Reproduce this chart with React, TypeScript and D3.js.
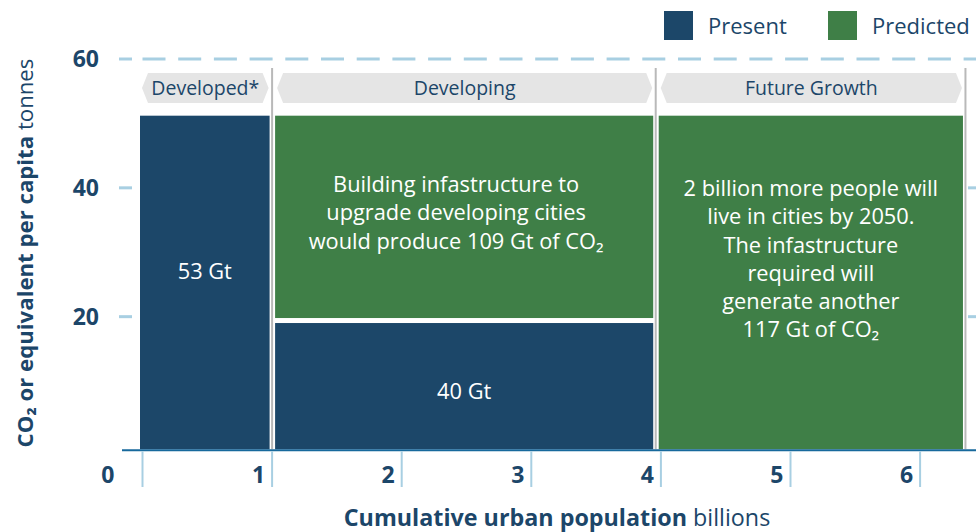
import React from "react";
import * as d3 from "d3";

// ---- data ----
const categories = ["Developed*", "Developing", "Future Growth"];
const popStart = [0, 1, 3.96];
const popEnd = [1, 3.96, 6.35];
const presentValues = [51.2, 19.4, 0];
const predictedValues = [0, 31.8, 51.2];
const xTickValues = [0, 1, 2, 3, 4, 5, 6];
const yTickValues = [20, 40, 60];
const legendItems = ["Present", "Predicted"];
const annotationLines = [
  ["53 Gt"],
  ["Building infastructure to", "upgrade developing cities", "would produce 109 Gt of CO₂"],
  ["40 Gt"],
  ["2 billion more people will", "live in cities by 2050.", "The infastructure", "required will", "generate another", "117 Gt of CO₂"],
];
const annotationCat = [0, 1, 1, 2];
const annotationValue = [27.1, 36.2, 8.5, 29.0];
const annotationShift = [0, -8, 0, 0];

const NAVY = "#1c4769";
const GREEN = "#3f7f47";
const TEXT = "#1c4669";
const LIGHTBLUE = "#a8cfe2";
const AXISBLUE = "#17699c";
const BANNER = "#e5e5e5";
const SEP = "#b9b9b9";
const FONT = "'Open Sans', Lato, sans-serif";

export default function App() {
  const W = 976, H = 532;
  const x = d3.scaleLinear().domain([0, 6]).range([142.5, 920.1]);
  const y = d3.scaleLinear().domain([0, 60]).range([445.5, 59]);
  const baseY = 449.3;
  const colors = [NAVY, GREEN];

  const barLeft = (i: number) => x(popStart[i]) + (i === 0 ? -2.5 : 3);
  const barRight = (i: number) => x(popEnd[i]) - 2.5;

  return (
    <svg width={W} height={H} style={{ display: "block", position: "absolute", left: 0, top: 0 }} fontFamily={FONT}>
      {/* legend */}
      {legendItems.map((t, i) => (
        <g key={t} transform={`translate(${664 + i * 164},11)`}>
          <rect width={29} height={29} fill={colors[i]} />
          <text x={44} y={22.5} fontSize={22} fill={TEXT}>{t}</text>
        </g>
      ))}

      {/* 60 dashed gridline */}
      <line x1={x(0)} x2={W} y1={y(60)} y2={y(60)} stroke={LIGHTBLUE} strokeWidth={3} strokeDasharray="23 12.7" />
      {/* y ticks */}
      {yTickValues.map((v) => (
        <g key={v}>
          <line x1={119} x2={132} y1={y(v)} y2={y(v)} stroke={LIGHTBLUE} strokeWidth={3} />
          {v !== 60 && <line x1={968} x2={976} y1={y(v)} y2={y(v)} stroke={LIGHTBLUE} strokeWidth={3} />}
          <text x={99} y={y(v) + 8} textAnchor="end" fontSize={23} fontWeight={700} fill={TEXT}>{v}</text>
        </g>
      ))}

      {/* banners */}
      {categories.map((c, i) => {
        const l = barLeft(i) + 2, r = barRight(i) - 1;
        const t = 73, b = 103, m = (t + b) / 2, k = 6;
        const path = `M${l},${m} L${l + k},${t} L${r - k},${t} L${r},${m} L${r - k},${b} L${l + k},${b} Z`;
        return (
          <g key={c}>
            <path d={path} fill={BANNER} />
            <text x={(l + r) / 2} y={94.5} textAnchor="middle" fontSize={19.5} fill={TEXT}>{c}</text>
          </g>
        );
      })}

      {/* bars */}
      {categories.map((c, i) => {
        const l = barLeft(i), r = barRight(i);
        const p = presentValues[i], q = predictedValues[i];
        const els: any[] = [];
        if (p > 0) {
          const yt = y(p) + (q > 0 ? 2.5 : 0);
          els.push(<rect key="p" x={l} width={r - l} y={yt} height={baseY - yt} fill={NAVY} />);
        }
        if (q > 0) {
          const yb = p > 0 ? y(p) - 2.5 : baseY;
          const yt = y(p + q);
          els.push(<rect key="q" x={l} width={r - l} y={yt} height={yb - yt} fill={GREEN} />);
        }
        return <g key={c}>{els}</g>;
      })}

      {/* separators */}
      {popEnd.map((v, i) => (
        <line key={i} x1={x(v)} x2={x(v)} y1={68} y2={baseY} stroke={SEP} strokeWidth={2} />
      ))}

      {/* annotations */}
      {annotationLines.map((lines, j) => {
        const i = annotationCat[j];
        const cx = (barLeft(i) + barRight(i)) / 2 + annotationShift[j];
        const cy = y(annotationValue[j]);
        const lh = 28.2;
        const y0 = cy - ((lines.length - 1) * lh) / 2 + 8;
        return (
          <text key={j} textAnchor="middle" fontSize={21.8} fill="#fff">
            {lines.map((ln, k) => (
              <tspan key={k} x={cx} y={y0 + k * lh}>{ln}</tspan>
            ))}
          </text>
        );
      })}

      {/* x axis */}
      <line x1={122} x2={W} y1={baseY + 1} y2={baseY + 1} stroke={AXISBLUE} strokeWidth={2} />
      {xTickValues.map((v) => (
        <g key={v}>
          <line x1={x(v)} x2={x(v)} y1={baseY + 2} y2={487} stroke={LIGHTBLUE} strokeWidth={2} />
          <text x={x(v) - (v === 0 ? 28 : 7)} y={483} textAnchor="end" fontSize={23} fontWeight={700} fill={TEXT}>{v}</text>
        </g>
      ))}

      {/* axis titles */}
      <text x={557} y={526} textAnchor="middle" fontSize={23.3} fill={TEXT}>
        <tspan fontWeight={700}>Cumulative urban population</tspan>
        <tspan> billions</tspan>
      </text>
      <text transform={`translate(33,253) rotate(-90)`} textAnchor="middle" fontSize={22.2} fill={TEXT}>
        <tspan fontWeight={700}>CO₂ or equivalent per capita</tspan>
        <tspan> tonnes</tspan>
      </text>
    </svg>
  );
}
